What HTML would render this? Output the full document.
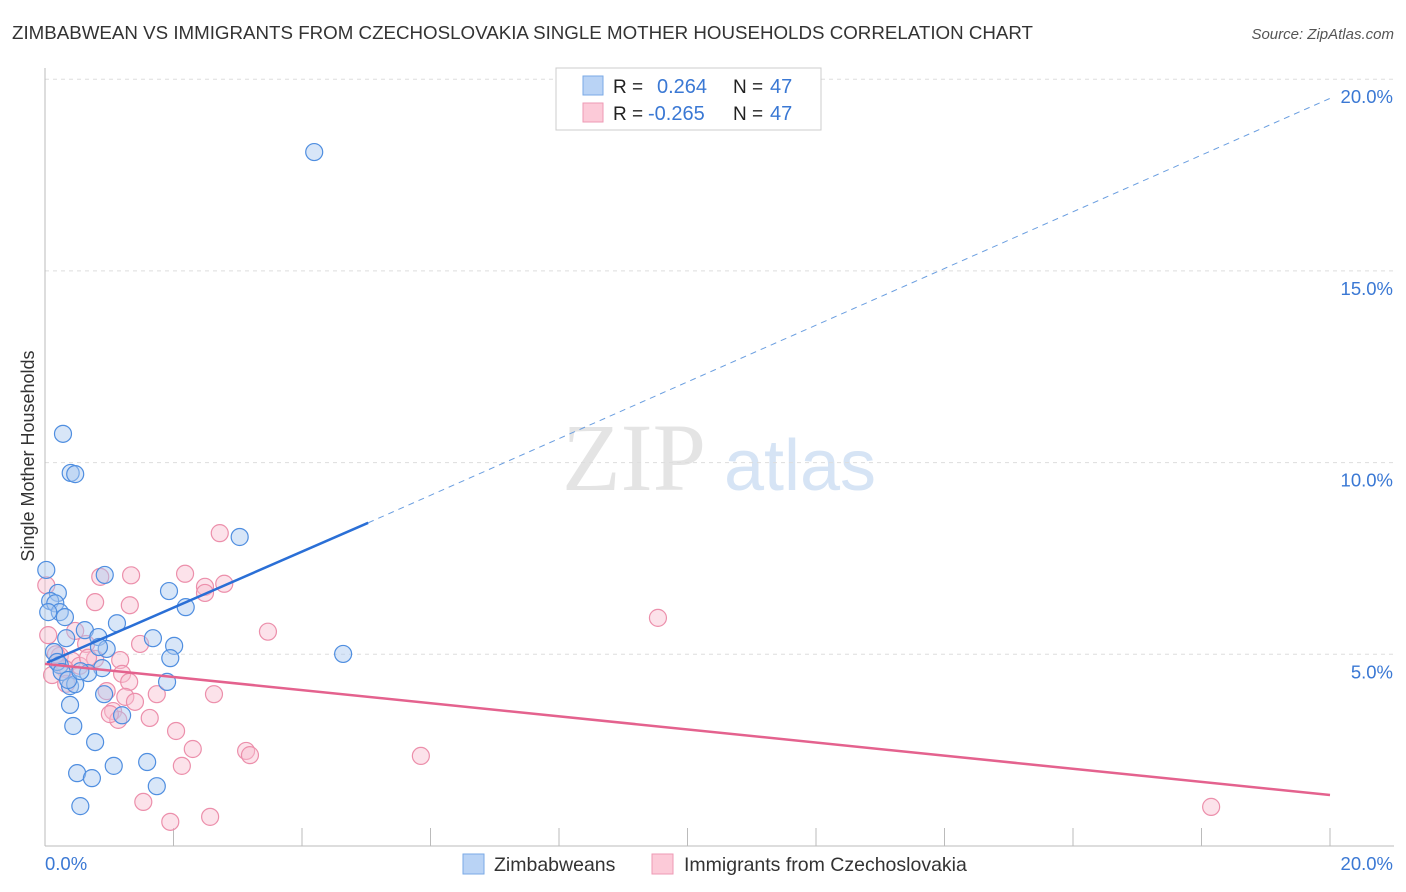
<!DOCTYPE html>
<html><head><meta charset="utf-8">
<style>
body{margin:0;background:#fff;font-family:"Liberation Sans",sans-serif;}
#wrap{position:relative;width:1406px;height:892px;overflow:hidden}
</style></head>
<body>
<div id="wrap">
<svg id="svg" width="1406" height="892" xmlns="http://www.w3.org/2000/svg">
<text x="12" y="39" font-size="18" fill="#333" textLength="1021" lengthAdjust="spacingAndGlyphs">ZIMBABWEAN VS IMMIGRANTS FROM CZECHOSLOVAKIA SINGLE MOTHER HOUSEHOLDS CORRELATION CHART</text>
<text x="1394" y="39" font-size="15" fill="#555" text-anchor="end" font-style="italic">Source: ZipAtlas.com</text>
<text x="634" y="490" font-size="96" fill="#e4e4e4" font-family="Liberation Serif,serif" text-anchor="middle">ZIP</text>
<text x="800" y="490" font-size="72" fill="#d6e4f5" text-anchor="middle">atlas</text>
<text transform="translate(34,456) rotate(-90)" font-size="18" fill="#333" text-anchor="middle">Single Mother Households</text>
<g id="grid"></g><g id="pts"></g><g id="lines"></g>
<g>
<rect x="556" y="68" width="265" height="62" fill="#fff" stroke="#ccc"/>
<rect x="583" y="76" width="20" height="19" fill="#b9d3f5" stroke="#7aaae6"/>
<rect x="583" y="103" width="20" height="19" fill="#fccad8" stroke="#ee9ab4"/>
<text x="613" y="93" font-size="19" fill="#222">R = </text><text x="657" y="93" font-size="20" fill="#3a78d4">0.264</text>
<text x="733" y="93" font-size="19" fill="#222">N = </text><text x="770" y="93" font-size="20" fill="#3a78d4">47</text>
<text x="613" y="120" font-size="19" fill="#222">R = </text><text x="648" y="120" font-size="20" fill="#3a78d4">-0.265</text>
<text x="733" y="120" font-size="19" fill="#222">N = </text><text x="770" y="120" font-size="20" fill="#3a78d4">47</text>
</g>
<g>
<rect x="463" y="854" width="21" height="20" fill="#b9d3f5" stroke="#7aaae6"/>
<text x="494" y="871" font-size="19.5" fill="#333">Zimbabweans</text>
<rect x="652" y="854" width="21" height="20" fill="#fccad8" stroke="#ee9ab4"/>
<text x="684" y="871" font-size="19.5" fill="#333">Immigrants from Czechoslovakia</text>
</g>
</svg>
</div>
<script>
const yTicks=[5,10,15,20];
const yTickLabels=["5.0%","10.0%","15.0%","20.0%"];
const blueX=[4.19,0.28,0.40,0.47,3.03,0.02,0.93,0.2,1.93,0.08,0.16,0.23,0.31,2.19,1.12,0.62,0.83,1.68,2.01,0.96,0.33,4.64,1.95,0.14,0.23,0.89,0.67,1.9,0.39,0.47,0.92,1.2,0.39,0.44,0.78,1.59,1.07,0.5,0.73,1.74,0.55,0.19,0.26,0.36,0.05,0.84,0.55];
const blueY=[18.1,10.75,9.73,9.7,8.06,7.2,7.07,6.6,6.65,6.39,6.33,6.1,5.97,6.23,5.81,5.63,5.45,5.42,5.22,5.14,5.42,5.01,4.9,5.06,4.72,4.64,4.51,4.28,4.17,4.22,3.96,3.41,3.68,3.13,2.71,2.19,2.09,1.9,1.77,1.56,1.04,4.8,4.54,4.33,6.1,5.19,4.56];
const pinkX=[2.72,1.34,0.86,2.18,2.49,2.79,0.78,1.32,2.49,3.47,9.54,0.02,0.05,0.47,1.48,0.64,0.23,0.78,1.17,0.42,0.54,0.31,1.2,1.31,0.96,1.74,2.63,0.33,1.25,1.4,1.06,1.14,1.63,2.04,2.3,3.13,3.19,2.13,5.85,1.53,2.57,1.95,18.15,0.17,0.67,0.11,1.01];
const pinkY=[8.16,7.06,7.02,7.1,6.76,6.84,6.36,6.28,6.6,5.59,5.95,6.8,5.5,5.61,5.27,5.27,4.96,4.88,4.85,4.83,4.7,4.62,4.49,4.28,4.04,3.96,3.96,4.23,3.89,3.76,3.52,3.29,3.34,3.0,2.53,2.48,2.37,2.09,2.35,1.15,0.76,0.63,1.02,5.0,4.91,4.46,3.44];
const blueTrend=[0.03,4.78,5.03,8.43];
const blueTrendExt=[20,19.5];
const pinkTrend=[0,4.75,20,1.33];
const X=v=>45+v/20*1285, Y=v=>846-v/5*191.7;
const NS="http://www.w3.org/2000/svg";
function mk(t,a,p){const e=document.createElementNS(NS,t);for(const k in a)e.setAttribute(k,a[k]);p.appendChild(e);return e;}
const svg=document.getElementById('svg'),grid=document.getElementById('grid'),pts=document.getElementById('pts'),lines=document.getElementById('lines');
yTicks.forEach((t,i)=>{
 const l=mk('line',{x1:45,x2:1394,y1:Y(t),y2:Y(t),stroke:'#ddd','stroke-dasharray':'4,4'},grid);
 
 
 const tx=mk('text',{x:1393,y:Y(t)+24,'font-size':18.5,fill:'#3a78d4','text-anchor':'end'},grid);
 tx.textContent=yTickLabels[i];
 
 
});
const ax=mk('line',{x1:45,x2:45,y1:68,y2:846,stroke:'#bbb'},grid);


const bx=mk('line',{x1:45,x2:1394,y1:846,y2:846,stroke:'#bbb'},grid);


for(let i=0;i<=10;i++){const tk=mk('line',{x1:X(i*2),x2:X(i*2),y1:828,y2:846,stroke:'#bbb'},grid);
 
 }
[["0.0%",45,'start'],["20.0%",1393,'end']].forEach(a=>{const t=mk('text',{x:a[1],y:870,'font-size':18.5,fill:'#3a78d4','text-anchor':a[2]},grid);t.textContent=a[0];
 
 });
function dots(xs,ys,fill,stroke,name){xs.forEach((x,i)=>{const c=mk('circle',{cx:X(x),cy:Y(ys[i]),r:8.5,fill:fill,'fill-opacity':0.45,stroke:stroke,'stroke-width':1.2},pts);
 
 });}
dots(pinkX,pinkY,'#f9bfd0','#ec8fab','point-czechoslovakia');
dots(blueX,blueY,'#a9c8f0','#4f8ee0','point-zimbabwean');
const b1=mk('line',{x1:X(blueTrend[0]),y1:Y(blueTrend[1]),x2:X(blueTrend[2]),y2:Y(blueTrend[3]),stroke:'#2a6fd6','stroke-width':2.5},lines);


const b2=mk('line',{x1:X(blueTrend[2]),y1:Y(blueTrend[3]),x2:X(blueTrendExt[0]),y2:Y(blueTrendExt[1]),stroke:'#6a9ee0','stroke-width':1,'stroke-dasharray':'6,5'},lines);


const p1=mk('line',{x1:X(pinkTrend[0]),y1:Y(pinkTrend[1]),x2:X(pinkTrend[2]),y2:Y(pinkTrend[3]),stroke:'#e4628e','stroke-width':2.5},lines);


</script>
</body></html>
